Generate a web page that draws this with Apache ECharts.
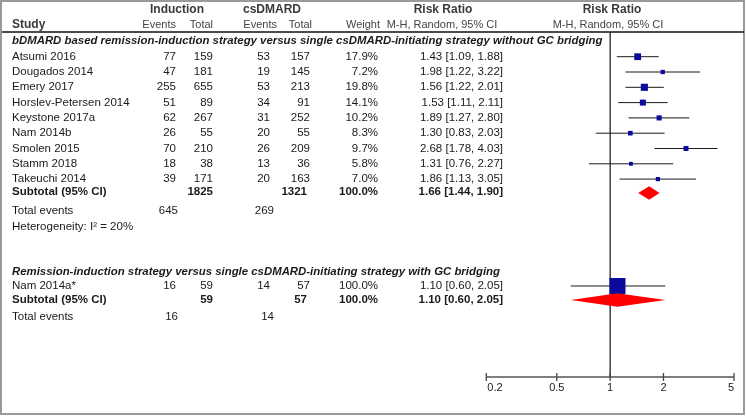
<!DOCTYPE html>
<html><head><meta charset="utf-8">
<script src="https://cdn.jsdelivr.net/npm/echarts@6/dist/echarts.min.js"></script>
<style>html,body{margin:0;padding:0;background:#fff}#c{width:746px;height:416px}</style>
</head><body><div id="c"></div>
<script>
// ---------------- data ----------------
const studies1 = ["Atsumi 2016","Dougados 2014","Emery 2017","Horslev-Petersen 2014","Keystone 2017a","Nam 2014b","Smolen 2015","Stamm 2018","Takeuchi 2014"];
const indEvents1 = [77,47,255,51,62,26,70,18,39];
const indTotal1  = [159,181,655,89,267,55,210,38,171];
const csEvents1  = [53,19,53,34,31,20,26,13,20];
const csTotal1   = [157,145,213,91,252,55,209,36,163];
const weights1   = [17.9,7.2,19.8,14.1,10.2,8.3,9.7,5.8,7.0];
const rr1 = [1.43,1.98,1.56,1.53,1.89,1.30,2.68,1.31,1.86];
const lo1 = [1.09,1.22,1.22,1.11,1.27,0.83,1.78,0.76,1.13];
const hi1 = [1.88,3.22,2.01,2.11,2.80,2.03,4.03,2.27,3.05];

const studies2 = ["Nam 2014a*"];
const indEvents2 = [16];
const indTotal2  = [59];
const csEvents2  = [14];
const csTotal2   = [57];
const weights2   = [100.0];
const rr2 = [1.10];
const lo2 = [0.60];
const hi2 = [2.05];

const groupTitles = ["bDMARD based remission-induction strategy versus single csDMARD-initiating strategy without GC bridging",
                     "Remission-induction strategy versus single csDMARD-initiating strategy with GC bridging"];
const subIndTotal = [1825, 59];
const subCsTotal  = [1321, 57];
const subWeight   = [100.0, 100.0];
const subRR = [1.66, 1.10];
const subLo = [1.44, 0.60];
const subHi = [1.90, 2.05];
const totIndEvents = [645, 16];
const totCsEvents  = [269, 14];
const heterogeneityText = ["Heterogeneity: I\u00B2 = 20%"];
const tickValues = [0.2, 0.5, 1, 2, 5];

// ---------------- layout ----------------
const FONT = '"Liberation Sans", Arial, sans-serif';
const L = {
  h1: 10, h2: 25, line: 32, sec1: 41, row0: 56.7, step: 15.3,
  sub1: 192, tot1: 211, het: 227, sec2: 272, row2: 286, sub2: 300, tot2: 317,
  axis: 377, plotTop: 32
};
const C = { study: 12, ie: 176, it: 213, ce: 270, ct: 310, w: 378, rr: 503 };
const fmtW = v => v.toFixed(1) + '%';
const fmtRR = (r, l, h) => r.toFixed(2) + ' [' + l.toFixed(2) + ', ' + h.toFixed(2) + ']';

const graphics = [];
function txt(x, y, s, opt) {
  opt = opt || {};
  graphics.push({
    type: 'text', x: x, y: y, silent: true,
    style: {
      text: String(s), fontFamily: FONT, fontSize: opt.size || 11.5,
      fontWeight: opt.bold ? 'bold' : 'normal', fontStyle: opt.italic ? 'italic' : 'normal',
      fill: opt.color || '#1a1a1a', align: opt.align || 'left', verticalAlign: 'middle',
      textAlign: opt.align || 'left', textVerticalAlign: 'middle'
    }
  });
}
// frame and header rule
graphics.push({type:'rect', shape:{x:1, y:1, width:743, height:413}, style:{fill:'none', stroke:'#9a9a9a', lineWidth:2}, silent:true});
graphics.push({type:'line', shape:{x1:2, y1:L.line, x2:744, y2:L.line}, style:{stroke:'#111', lineWidth:1.3}, silent:true});

// headers
const HC = '#3a3a3a';
txt(177, L.h1, 'Induction', {bold:true, align:'center', color:HC, size:12});
txt(272, L.h1, 'csDMARD', {bold:true, align:'center', color:HC, size:12});
txt(443, L.h1, 'Risk Ratio', {bold:true, align:'center', color:HC, size:12});
txt(612, L.h1, 'Risk Ratio', {bold:true, align:'center', color:HC, size:12});
txt(C.study, L.h2, 'Study', {bold:true, color:HC, size:12});
txt(176, L.h2, 'Events', {align:'right', color:'#444', size:11});
txt(213, L.h2, 'Total', {align:'right', color:'#444', size:11});
txt(277, L.h2, 'Events', {align:'right', color:'#444', size:11});
txt(312, L.h2, 'Total', {align:'right', color:'#444', size:11});
txt(380, L.h2, 'Weight', {align:'right', color:'#444', size:11});
txt(442, L.h2, 'M-H, Random, 95% CI', {align:'center', color:'#444', size:11});
txt(608, L.h2, 'M-H, Random, 95% CI', {align:'center', color:'#444', size:11});

// group 1
txt(C.study, L.sec1, groupTitles[0], {bold:true, italic:true, size:11.4});
const rowY1 = studies1.map((s, i) => L.row0 + i * L.step);
studies1.forEach((s, i) => {
  const y = rowY1[i];
  txt(C.study, y, s);
  txt(C.ie, y, indEvents1[i], {align:'right'});
  txt(C.it, y, indTotal1[i], {align:'right'});
  txt(C.ce, y, csEvents1[i], {align:'right'});
  txt(C.ct, y, csTotal1[i], {align:'right'});
  txt(C.w, y, fmtW(weights1[i]), {align:'right'});
  txt(C.rr, y, fmtRR(rr1[i], lo1[i], hi1[i]), {align:'right'});
});
txt(C.study, L.sub1, 'Subtotal (95% CI)', {bold:true});
txt(C.it, L.sub1, subIndTotal[0], {align:'right', bold:true});
txt(C.ct - 3, L.sub1, subCsTotal[0], {align:'right', bold:true});
txt(C.w, L.sub1, fmtW(subWeight[0]), {align:'right', bold:true});
txt(C.rr, L.sub1, fmtRR(subRR[0], subLo[0], subHi[0]), {align:'right', bold:true});
txt(C.study, L.tot1, 'Total events');
txt(178, L.tot1, totIndEvents[0], {align:'right'});
txt(274, L.tot1, totCsEvents[0], {align:'right'});
txt(C.study, L.het, heterogeneityText[0]);

// group 2
txt(C.study, L.sec2, groupTitles[1], {bold:true, italic:true, size:11.4});
const rowY2 = studies2.map((s, i) => L.row2 + i * L.step);
studies2.forEach((s, i) => {
  const y = rowY2[i];
  txt(C.study, y, s);
  txt(C.ie, y, indEvents2[i], {align:'right'});
  txt(C.it, y, indTotal2[i], {align:'right'});
  txt(C.ce, y, csEvents2[i], {align:'right'});
  txt(C.ct, y, csTotal2[i], {align:'right'});
  txt(C.w, y, fmtW(weights2[i]), {align:'right'});
  txt(C.rr, y, fmtRR(rr2[i], lo2[i], hi2[i]), {align:'right'});
});
txt(C.study, L.sub2, 'Subtotal (95% CI)', {bold:true});
txt(C.it, L.sub2, subIndTotal[1], {align:'right', bold:true});
txt(C.ct - 3, L.sub2, subCsTotal[1], {align:'right', bold:true});
txt(C.w, L.sub2, fmtW(subWeight[1]), {align:'right', bold:true});
txt(C.rr, L.sub2, fmtRR(subRR[1], subLo[1], subHi[1]), {align:'right', bold:true});
txt(C.study, L.tot2, 'Total events');
txt(178, L.tot2, totIndEvents[1], {align:'right'});
txt(274, L.tot2, totCsEvents[1], {align:'right'});

// ---------------- series data ----------------
const studyData = studies1.map((s, i) => [rr1[i], rowY1[i], lo1[i], hi1[i], weights1[i]])
  .concat(studies2.map((s, i) => [rr2[i], rowY2[i], lo2[i], hi2[i], weights2[i]]));
const diamondData = [[subRR[0], L.sub1 + 1, subLo[0], subHi[0]], [subRR[1], L.sub2, subLo[1], subHi[1]]];

const chart = echarts.init(document.getElementById('c'), null, {renderer: 'canvas'});
chart.setOption({
  animation: false,
  backgroundColor: '#fff',
  grid: { left: 486.3, width: 247.7, top: L.plotTop, height: L.axis - L.plotTop },
  xAxis: { type: 'log', logBase: 10, min: tickValues[0], max: tickValues[tickValues.length - 1], show: false },
  yAxis: { type: 'value', min: L.plotTop, max: L.axis, inverse: true, show: false },
  graphic: graphics,
  series: [
    { // reference line at RR = 1
      type: 'custom', silent: true, data: [[1]],
      renderItem: (p, api) => {
        const a = api.coord([api.value(0), L.plotTop]), b = api.coord([api.value(0), L.axis]);
        return {type:'line', shape:{x1:a[0], y1:a[1], x2:b[0], y2:b[1]}, style:{stroke:'#111', lineWidth:1.2}};
      }
    },
    { // axis line
      type: 'custom', silent: true, data: [[tickValues[0], tickValues[tickValues.length - 1]]],
      renderItem: (p, api) => {
        const a = api.coord([api.value(0), L.axis]), b = api.coord([api.value(1), L.axis]);
        return {type:'line', shape:{x1:a[0], y1:a[1], x2:b[0], y2:b[1]}, style:{stroke:'#555', lineWidth:1.5}};
      }
    },
    { // ticks and tick labels
      type: 'custom', silent: true, data: tickValues.map(v => [v]),
      renderItem: (p, api) => {
        const v = api.value(0);
        const c = api.coord([v, L.axis]);
        const first = p.dataIndex === 0, last = p.dataIndex === tickValues.length - 1;
        return {type:'group', children:[
          {type:'line', shape:{x1:c[0], y1:c[1] - 4, x2:c[0], y2:c[1] + 4}, style:{stroke:'#444', lineWidth:1.3}},
          {type:'text', x: c[0] + (first ? 1 : 0), y: c[1] + 5, style:{text: String(v), fontFamily: FONT, fontSize: 11, fill:'#222',
            align: first ? 'left' : (last ? 'right' : 'center'), verticalAlign: 'top'}}
        ]};
      }
    },
    { // study CIs and weighted squares
      type: 'custom', silent: true, data: studyData,
      renderItem: (p, api) => {
        const y = api.value(1);
        const a = api.coord([api.value(2), y]), b = api.coord([api.value(3), y]), c = api.coord([api.value(0), y]);
        const s = 16 * Math.sqrt(api.value(4) / 100);
        return {type:'group', children:[
          {type:'line', shape:{x1:a[0], y1:a[1], x2:b[0], y2:b[1]}, style:{stroke:'#1a1a1a', lineWidth:1}},
          {type:'rect', shape:{x:c[0] - s / 2, y:c[1] - s / 2, width:s, height:s}, style:{fill:'#0a0a9c'}}
        ]};
      }
    },
    { // pooled diamonds
      type: 'custom', silent: true, data: diamondData,
      renderItem: (p, api) => {
        const y = api.value(1), h = 6.8;
        const a = api.coord([api.value(2), y]), b = api.coord([api.value(3), y]), c = api.coord([api.value(0), y]);
        return {type:'polygon', shape:{points:[[a[0], a[1]], [c[0], c[1] - h], [b[0], b[1]], [c[0], c[1] + h]]}, style:{fill:'#ff0000'}};
      }
    }
  ]
});
</script></body></html>
